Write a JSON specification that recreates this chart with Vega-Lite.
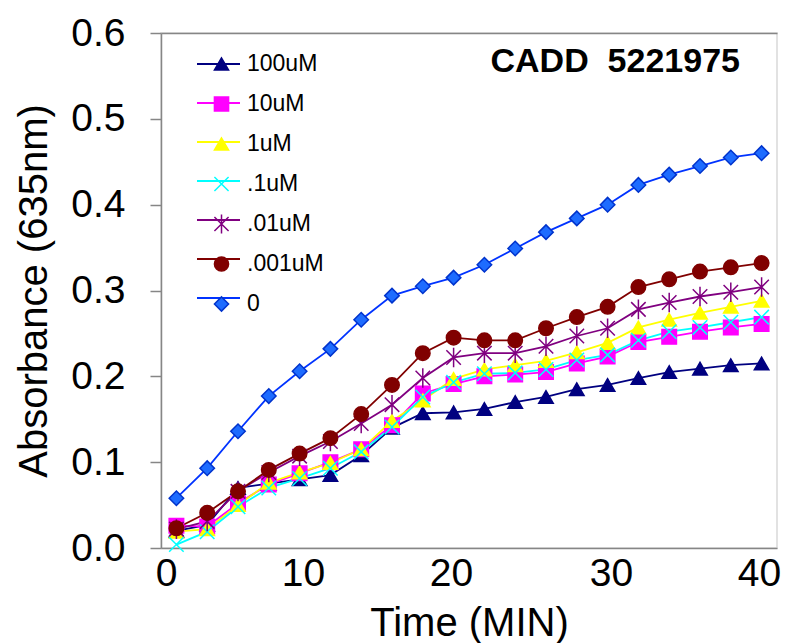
{
  "$schema": "https://vega.github.io/schema/vega-lite/v6.json",
  "width": 616,
  "height": 515,
  "autosize": {"type": "none"},
  "padding": {"left": 161, "top": 33, "right": 9, "bottom": 95},
  "background": "white",
  "title": {"text": "CADD \u00a05221975", "anchor": "end", "frame": "group", "orient": "top", "fontSize": 34, "fontWeight": "bold", "color": "#000", "font": "Liberation Sans", "offset": 0, "baseline": "alphabetic", "dx": -37, "dy": 92},
  "data": {"values": [
    {"time":1,"series":"100uM","absorbance":0.020},{"time":3,"series":"100uM","absorbance":0.027},{"time":5,"series":"100uM","absorbance":0.070},{"time":7,"series":"100uM","absorbance":0.075},{"time":9,"series":"100uM","absorbance":0.080},{"time":11,"series":"100uM","absorbance":0.085},{"time":13,"series":"100uM","absorbance":0.108},{"time":15,"series":"100uM","absorbance":0.140},{"time":17,"series":"100uM","absorbance":0.157},{"time":19,"series":"100uM","absorbance":0.158},{"time":21,"series":"100uM","absorbance":0.162},{"time":23,"series":"100uM","absorbance":0.170},{"time":25,"series":"100uM","absorbance":0.176},{"time":27,"series":"100uM","absorbance":0.185},{"time":29,"series":"100uM","absorbance":0.190},{"time":31,"series":"100uM","absorbance":0.198},{"time":33,"series":"100uM","absorbance":0.205},{"time":35,"series":"100uM","absorbance":0.209},{"time":37,"series":"100uM","absorbance":0.213},{"time":39,"series":"100uM","absorbance":0.215},
    {"time":1,"series":"10uM","absorbance":0.026},{"time":3,"series":"10uM","absorbance":0.025},{"time":5,"series":"10uM","absorbance":0.052},{"time":7,"series":"10uM","absorbance":0.074},{"time":9,"series":"10uM","absorbance":0.087},{"time":11,"series":"10uM","absorbance":0.100},{"time":13,"series":"10uM","absorbance":0.115},{"time":15,"series":"10uM","absorbance":0.143},{"time":17,"series":"10uM","absorbance":0.180},{"time":19,"series":"10uM","absorbance":0.191},{"time":21,"series":"10uM","absorbance":0.200},{"time":23,"series":"10uM","absorbance":0.202},{"time":25,"series":"10uM","absorbance":0.205},{"time":27,"series":"10uM","absorbance":0.215},{"time":29,"series":"10uM","absorbance":0.223},{"time":31,"series":"10uM","absorbance":0.240},{"time":33,"series":"10uM","absorbance":0.246},{"time":35,"series":"10uM","absorbance":0.252},{"time":37,"series":"10uM","absorbance":0.257},{"time":39,"series":"10uM","absorbance":0.261},
    {"time":1,"series":"1uM","absorbance":0.019},{"time":3,"series":"1uM","absorbance":0.022},{"time":5,"series":"1uM","absorbance":0.050},{"time":7,"series":"1uM","absorbance":0.076},{"time":9,"series":"1uM","absorbance":0.088},{"time":11,"series":"1uM","absorbance":0.099},{"time":13,"series":"1uM","absorbance":0.115},{"time":15,"series":"1uM","absorbance":0.148},{"time":17,"series":"1uM","absorbance":0.172},{"time":19,"series":"1uM","absorbance":0.197},{"time":21,"series":"1uM","absorbance":0.208},{"time":23,"series":"1uM","absorbance":0.213},{"time":25,"series":"1uM","absorbance":0.218},{"time":27,"series":"1uM","absorbance":0.228},{"time":29,"series":"1uM","absorbance":0.239},{"time":31,"series":"1uM","absorbance":0.257},{"time":33,"series":"1uM","absorbance":0.266},{"time":35,"series":"1uM","absorbance":0.274},{"time":37,"series":"1uM","absorbance":0.281},{"time":39,"series":"1uM","absorbance":0.288},
    {"time":1,"series":".1uM","absorbance":0.004},{"time":3,"series":".1uM","absorbance":0.019},{"time":5,"series":".1uM","absorbance":0.048},{"time":7,"series":".1uM","absorbance":0.070},{"time":9,"series":".1uM","absorbance":0.081},{"time":11,"series":".1uM","absorbance":0.093},{"time":13,"series":".1uM","absorbance":0.112},{"time":15,"series":".1uM","absorbance":0.141},{"time":17,"series":".1uM","absorbance":0.176},{"time":19,"series":".1uM","absorbance":0.193},{"time":21,"series":".1uM","absorbance":0.203},{"time":23,"series":".1uM","absorbance":0.204},{"time":25,"series":".1uM","absorbance":0.208},{"time":27,"series":".1uM","absorbance":0.219},{"time":29,"series":".1uM","absorbance":0.225},{"time":31,"series":".1uM","absorbance":0.242},{"time":33,"series":".1uM","absorbance":0.252},{"time":35,"series":".1uM","absorbance":0.257},{"time":37,"series":".1uM","absorbance":0.263},{"time":39,"series":".1uM","absorbance":0.269},
    {"time":1,"series":".01uM","absorbance":0.022},{"time":3,"series":".01uM","absorbance":0.031},{"time":5,"series":".01uM","absorbance":0.066},{"time":7,"series":".01uM","absorbance":0.088},{"time":9,"series":".01uM","absorbance":0.107},{"time":11,"series":".01uM","absorbance":0.124},{"time":13,"series":".01uM","absorbance":0.145},{"time":15,"series":".01uM","absorbance":0.167},{"time":17,"series":".01uM","absorbance":0.198},{"time":19,"series":".01uM","absorbance":0.222},{"time":21,"series":".01uM","absorbance":0.227},{"time":23,"series":".01uM","absorbance":0.227},{"time":25,"series":".01uM","absorbance":0.235},{"time":27,"series":".01uM","absorbance":0.247},{"time":29,"series":".01uM","absorbance":0.256},{"time":31,"series":".01uM","absorbance":0.278},{"time":33,"series":".01uM","absorbance":0.286},{"time":35,"series":".01uM","absorbance":0.293},{"time":37,"series":".01uM","absorbance":0.298},{"time":39,"series":".01uM","absorbance":0.304},
    {"time":1,"series":".001uM","absorbance":0.023},{"time":3,"series":".001uM","absorbance":0.041},{"time":5,"series":".001uM","absorbance":0.066},{"time":7,"series":".001uM","absorbance":0.091},{"time":9,"series":".001uM","absorbance":0.110},{"time":11,"series":".001uM","absorbance":0.128},{"time":13,"series":".001uM","absorbance":0.156},{"time":15,"series":".001uM","absorbance":0.190},{"time":17,"series":".001uM","absorbance":0.227},{"time":19,"series":".001uM","absorbance":0.245},{"time":21,"series":".001uM","absorbance":0.242},{"time":23,"series":".001uM","absorbance":0.242},{"time":25,"series":".001uM","absorbance":0.256},{"time":27,"series":".001uM","absorbance":0.269},{"time":29,"series":".001uM","absorbance":0.281},{"time":31,"series":".001uM","absorbance":0.304},{"time":33,"series":".001uM","absorbance":0.313},{"time":35,"series":".001uM","absorbance":0.322},{"time":37,"series":".001uM","absorbance":0.327},{"time":39,"series":".001uM","absorbance":0.332},
    {"time":1,"series":"0","absorbance":0.058},{"time":3,"series":"0","absorbance":0.093},{"time":5,"series":"0","absorbance":0.136},{"time":7,"series":"0","absorbance":0.177},{"time":9,"series":"0","absorbance":0.206},{"time":11,"series":"0","absorbance":0.232},{"time":13,"series":"0","absorbance":0.266},{"time":15,"series":"0","absorbance":0.294},{"time":17,"series":"0","absorbance":0.305},{"time":19,"series":"0","absorbance":0.315},{"time":21,"series":"0","absorbance":0.330},{"time":23,"series":"0","absorbance":0.349},{"time":25,"series":"0","absorbance":0.368},{"time":27,"series":"0","absorbance":0.384},{"time":29,"series":"0","absorbance":0.400},{"time":31,"series":"0","absorbance":0.423},{"time":33,"series":"0","absorbance":0.435},{"time":35,"series":"0","absorbance":0.445},{"time":37,"series":"0","absorbance":0.455},{"time":39,"series":"0","absorbance":0.460}
  ]},
  "layer": [
    {
      "mark": {"type": "line", "strokeWidth": 1.8},
      "encoding": {
        "x": {"field": "time", "type": "quantitative", "scale": {"domain": [0, 40], "nice": false},
              "axis": {"orient": "bottom", "title": "Time (MIN)", "values": [0, 10, 20, 30, 40], "format": "d", "ticks": false, "labelPadding": 6, "titlePadding": 10, "labelFlush": false, "labelBound": false, "labelOverlap": false,
                       "labelOffset": {"condition": [{"test": "datum.value == 0", "value": 5}, {"test": "datum.value == 20 || datum.value == 40", "value": -18}], "value": -12}}},
        "y": {"field": "absorbance", "type": "quantitative", "scale": {"domain": [0, 0.6], "nice": false},
              "axis": {"title": "Absorbance (635nm)", "values": [0, 0.1, 0.2, 0.3, 0.4, 0.5, 0.6], "format": ".1f", "tickSize": 11, "labelPadding": 25, "titlePadding": 16, "labelFlush": false, "labelBound": false, "labelOverlap": false}},
        "color": {"field": "series", "type": "nominal",
                  "scale": {"domain": ["100uM", "10uM", "1uM", ".1uM", ".01uM", ".001uM", "0"], "range": ["#000080", "#ff00ff", "#ffff00", "#00ffff", "#800080", "#800000", "#0033ff"]},
                  "legend": {"orient": "none", "legendX": 35, "legendY": 21, "title": null, "symbolType": "stroke", "symbolSize": 1849, "symbolStrokeWidth": 1.8, "clipHeight": 20, "rowPadding": 17, "padding": 0, "labelFontSize": 22, "labelExpr": "''"}}
      }
    },
    {
      "mark": {"type": "point", "filled": true, "size": 210, "strokeWidth": 1.5, "opacity": 1},
      "encoding": {
        "x": {"field": "time", "type": "quantitative", "axis": {"orient": "top", "title": null, "labels": false, "ticks": false}},
        "y": {"field": "absorbance", "type": "quantitative"},
        "fill": {"field": "series", "type": "nominal", "sort": null,
                 "scale": {"range": ["#000080", "#ff00ff", "#ffff00", "#00ffff", "#800080", "#800000", "#1e6cff"]},
                 "legend": {"orient": "none", "legendX": 49, "legendY": 21, "title": null, "symbolSize": 200, "symbolStrokeWidth": 1.5, "clipHeight": 20, "rowPadding": 17, "padding": 0, "labelFontSize": 23, "labelOffset": 14, "labelColor": "#000", "labelFont": "Liberation Sans"}},
        "stroke": {"field": "series", "type": "nominal", "sort": null,
                   "scale": {"range": ["#000080", "#ff00ff", "#ffff00", "#00ffff", "#800080", "#800000", "#0033cc"]},
                   "legend": {"orient": "none", "legendX": 49, "legendY": 21, "title": null}},
        "shape": {"field": "series", "type": "nominal", "sort": null,
                  "scale": {"range": ["triangle-up", "square", "triangle-up", "M-1,-1L1,1M-1,1L1,-1", "M-1,-1L1,1M-1,1L1,-1M0,-1.35L0,1.35", "circle", "diamond"]},
                  "legend": {"orient": "none", "legendX": 49, "legendY": 21, "title": null}}
      }
    }
  ],
  "config": {
    "font": "Liberation Sans",
    "view": {"stroke": "#d9d9d9", "strokeWidth": 1.5},
    "axis": {"grid": false, "domainColor": "#868686", "domainWidth": 1.5, "tickColor": "#868686", "tickWidth": 1.5, "labelColor": "#000", "titleColor": "#000", "labelFont": "Liberation Sans", "titleFont": "Liberation Sans", "labelFontSize": 39, "titleFontSize": 40, "titleFontWeight": "normal"},
    "legend": {"labelFont": "Liberation Sans", "labelColor": "#000"}
  }
}
